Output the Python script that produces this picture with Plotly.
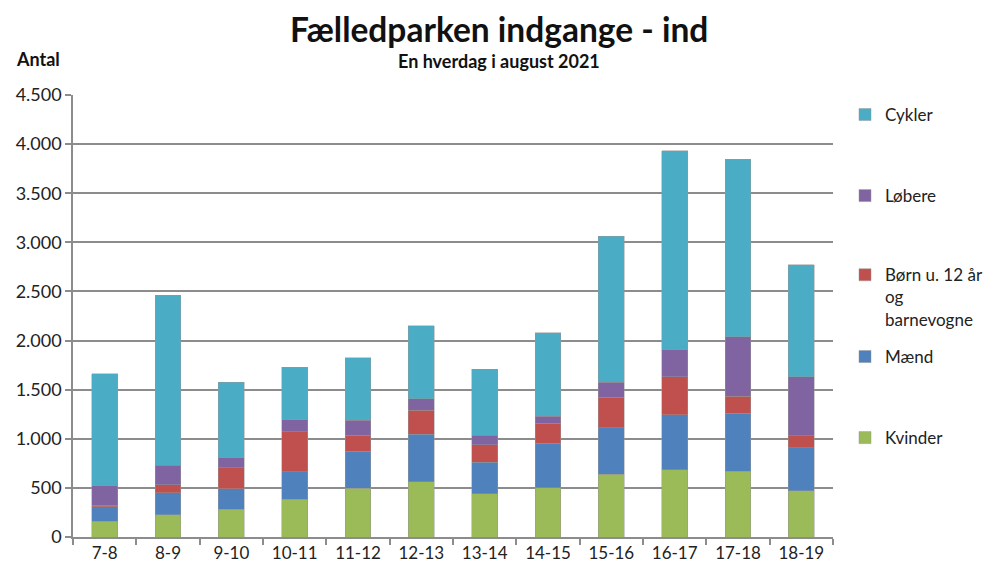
import plotly.graph_objects as go

categories = ["7-8", "8-9", "9-10", "10-11", "11-12", "12-13", "13-14", "14-15", "15-16", "16-17", "17-18", "18-19"]
kvinder = [158, 225, 282, 384, 496, 561, 438, 503, 639, 683, 670, 469]
maend = [150, 225, 211, 282, 378, 486, 323, 452, 472, 564, 588, 442]
boern = [17, 80, 214, 408, 163, 245, 177, 201, 310, 385, 173, 119]
loebere = [195, 200, 102, 119, 153, 115, 99, 71, 156, 275, 608, 602]
cykler = [1142, 1730, 765, 537, 635, 745, 669, 853, 1486, 2026, 1809, 1142]

series = [
    ("Kvinder", kvinder, "#9BBB59", "legend5", 0.2302, "middle"),
    ("Mænd", maend, "#4F81BD", "legend4", 0.3726, "middle"),
    ("Børn u. 12 år<br>og<br>barnevogne", boern, "#C0504D", "legend3", 0.548, "top"),
    ("Løbere", loebere, "#8064A2", "legend2", 0.6555, "middle"),
    ("Cykler", cykler, "#4BACC6", "legend", 0.798, "middle"),
]

FONT = "Lato, 'Open Sans', sans-serif"

fig = go.Figure()
layout_legends = {}
for name, vals, color, leg, ly, yanc in series:
    fig.add_trace(go.Bar(
        x=categories, y=vals, name=name, showlegend=True,
        marker=dict(color=color, line=dict(color="rgba(150,150,150,0.6)", width=0.8)),
        legend=leg,
    ))
    layout_legends[leg] = dict(
        xref="container", yref="container",
        x=0.857, y=ly, xanchor="left", yanchor=yanc,
        font=dict(family=FONT, size=17, color="#222"),
        bgcolor="rgba(0,0,0,0)", itemwidth=30, valign="top",
    )

fig.update_layout(
    barmode="stack",
    bargap=0.59,
    width=986, height=569,
    margin=dict(l=73, r=153, t=95, b=32, autoexpand=False),
    plot_bgcolor="white", paper_bgcolor="white",
    separators=",.",
    showlegend=True,
    font=dict(family=FONT, size=18, color="#222"),
    **layout_legends,
)

fig.update_yaxes(
    range=[0, 4500], dtick=500, tickformat=",.0f",
    showgrid=True, gridcolor="#8c8c8c", gridwidth=1.5,
    showline=True, linecolor="#8c8c8c", linewidth=1.5,
    ticks="outside", ticklen=6, tickcolor="#8c8c8c", tickwidth=1.5,
    tickfont=dict(family=FONT, size=18, color="#222"),
    zeroline=False, automargin=False,
)
fig.update_xaxes(
    type="category",
    showline=True, linecolor="#8c8c8c", linewidth=1.5,
    ticks="outside", ticklen=6, tickcolor="#8c8c8c", tickwidth=1.5,
    tickson="boundaries", automargin=False,
    tickfont=dict(family=FONT, size=17, color="#222"),
)

fig.add_annotation(text="<b>Fælledparken indgange - ind</b>", xref="paper", yref="paper",
                   x=0.5605, y=1.0, xanchor="center", yanchor="middle", yshift=66,
                   showarrow=False, font=dict(family=FONT, size=33.5, color="#111"))
fig.add_annotation(text="<b>En hverdag i august 2021</b>", xref="paper", yref="paper",
                   x=0.5605, y=1.0, xanchor="center", yanchor="middle", yshift=34,
                   showarrow=False, font=dict(family=FONT, size=18, color="#111"))
fig.add_annotation(text="<b>Antal</b>", xref="paper", yref="paper",
                   x=0, y=1.0, xanchor="left", yanchor="middle", xshift=-59, yshift=36,
                   showarrow=False, font=dict(family=FONT, size=18, color="#111"))

fig.write_html("out.html", config={"displayModeBar": False},
               post_script="document.body.style.margin='0';document.body.style.overflow='hidden';")
